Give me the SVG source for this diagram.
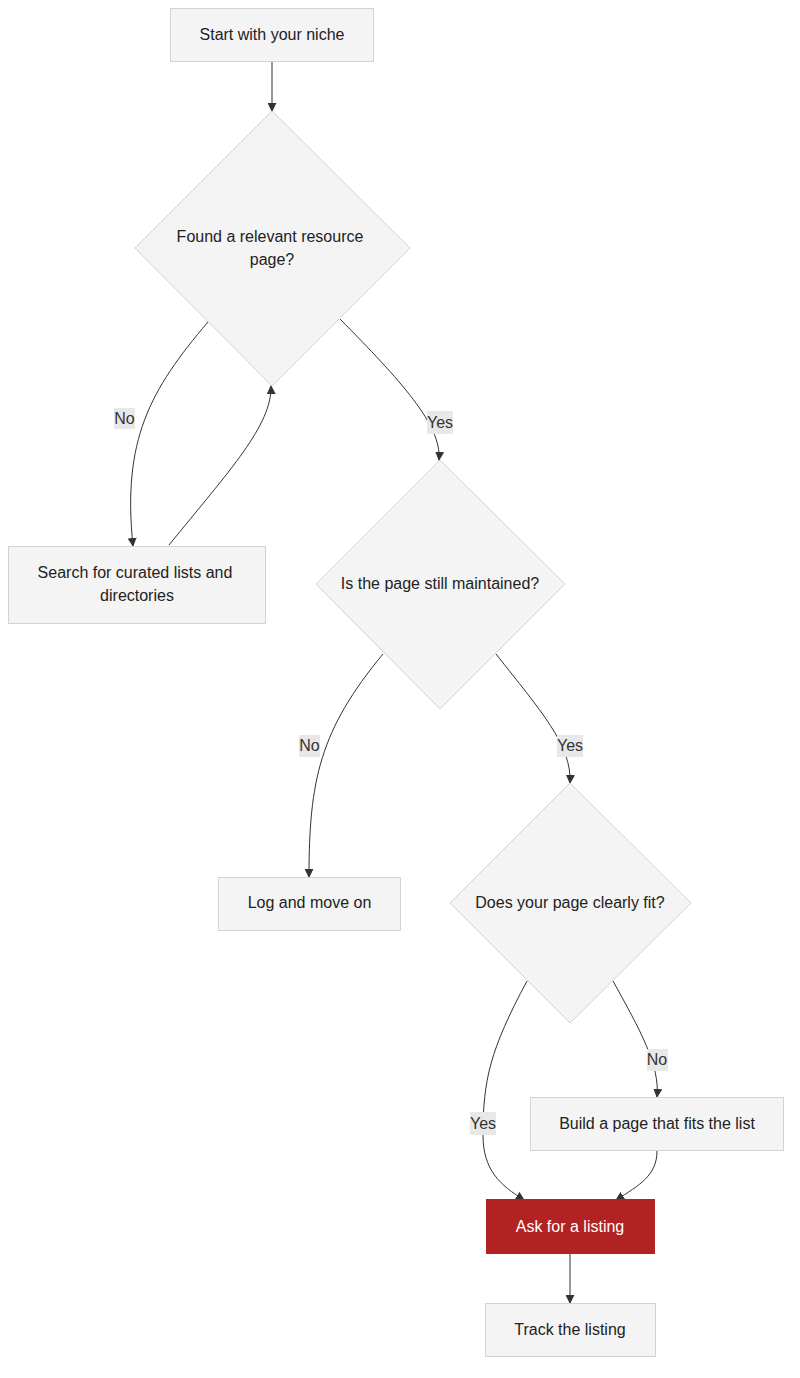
<svg xmlns="http://www.w3.org/2000/svg" width="800" height="1378" viewBox="0 0 800 1378">
<style>
.n{fill:#f4f4f4;stroke:#d3d3d3;stroke-width:1}
.t{font-family:"Liberation Sans",Arial,sans-serif;font-size:16px;fill:#222;text-anchor:middle}
.e{fill:none;stroke:#333;stroke-width:1}
.lb{fill:#e8e8e8}
.lt{font-family:"Liberation Sans",Arial,sans-serif;font-size:16px;fill:#333;text-anchor:middle}
</style>
<defs><marker id="a" viewBox="0 0 10 10" refX="9" refY="5" markerWidth="9" markerHeight="9" markerUnits="userSpaceOnUse" orient="auto"><path d="M0,0L10,5L0,10z" fill="#333"/></marker></defs>
<g id="edges">
<path class="e" marker-end="url(#a)" d="M272,62V111"/>
<path class="e" marker-end="url(#a)" d="M208,322C150,390 122,440 133,546"/>
<path class="e" marker-end="url(#a)" d="M169,545C230,470 272,425 271,386"/>
<path class="e" marker-end="url(#a)" d="M340,319C400,380 442,425 439,460"/>
<path class="e" marker-end="url(#a)" d="M383,654C320,730 309,780 309,877"/>
<path class="e" marker-end="url(#a)" d="M496,654C540,710 572,745 570,783"/>
<path class="e" marker-end="url(#a)" d="M527,981C490,1050 483,1080 483,1135C483,1170 500,1185 524,1200"/>
<path class="e" marker-end="url(#a)" d="M613,981C640,1030 660,1065 657,1097"/>
<path class="e" marker-end="url(#a)" d="M657,1151C657,1175 640,1185 616,1200"/>
<path class="e" marker-end="url(#a)" d="M570,1253V1303"/>
<rect class="lb" x="114" y="408" width="21" height="21"/><text class="lt" x="124.5" y="424">No</text>
<rect class="lb" x="427" y="411" width="26" height="23"/><text class="lt" x="440" y="428">Yes</text>
<rect class="lb" x="299" y="735" width="21" height="22"/><text class="lt" x="309.5" y="751">No</text>
<rect class="lb" x="557" y="735" width="26" height="22"/><text class="lt" x="570" y="751">Yes</text>
<rect class="lb" x="647" y="1049" width="21" height="22"/><text class="lt" x="657" y="1065">No</text>
<rect class="lb" x="470" y="1112" width="26" height="23"/><text class="lt" x="483" y="1129">Yes</text>
</g>
<g id="n1"><rect class="n" x="170.5" y="8.5" width="203" height="53"/><text class="t" x="272" y="40">Start with your niche</text></g>
<g id="n2"><polygon class="n" points="272,111 410,248 272,386 135,248"/><text class="t" x="270" y="242">Found a relevant resource</text><text class="t" x="272" y="265">page?</text></g>
<g id="n3"><rect class="n" x="8.5" y="546.5" width="257" height="77"/><text class="t" x="135" y="578">Search for curated lists and</text><text class="t" x="137" y="601">directories</text></g>
<g id="n4"><polygon class="n" points="440,460 565,584 440,709 316,584"/><text class="t" x="440" y="589">Is the page still maintained?</text></g>
<g id="n5"><rect class="n" x="218.5" y="877.5" width="182" height="53"/><text class="t" x="309.5" y="908">Log and move on</text></g>
<g id="n6"><polygon class="n" points="570,783 691,903 570,1023 450,903"/><text class="t" x="570" y="908">Does your page clearly fit?</text></g>
<g id="n7"><rect class="n" x="530.5" y="1097.5" width="253" height="53"/><text class="t" x="657" y="1129">Build a page that fits the list</text></g>
<g id="n8"><rect x="486.5" y="1199.5" width="168" height="54" fill="#b22222" stroke="#b22222"/><text class="t" x="570" y="1232" style="fill:#fff">Ask for a listing</text></g>
<g id="n9"><rect class="n" x="485.5" y="1303.5" width="170" height="53"/><text class="t" x="570" y="1335">Track the listing</text></g>
</svg>
